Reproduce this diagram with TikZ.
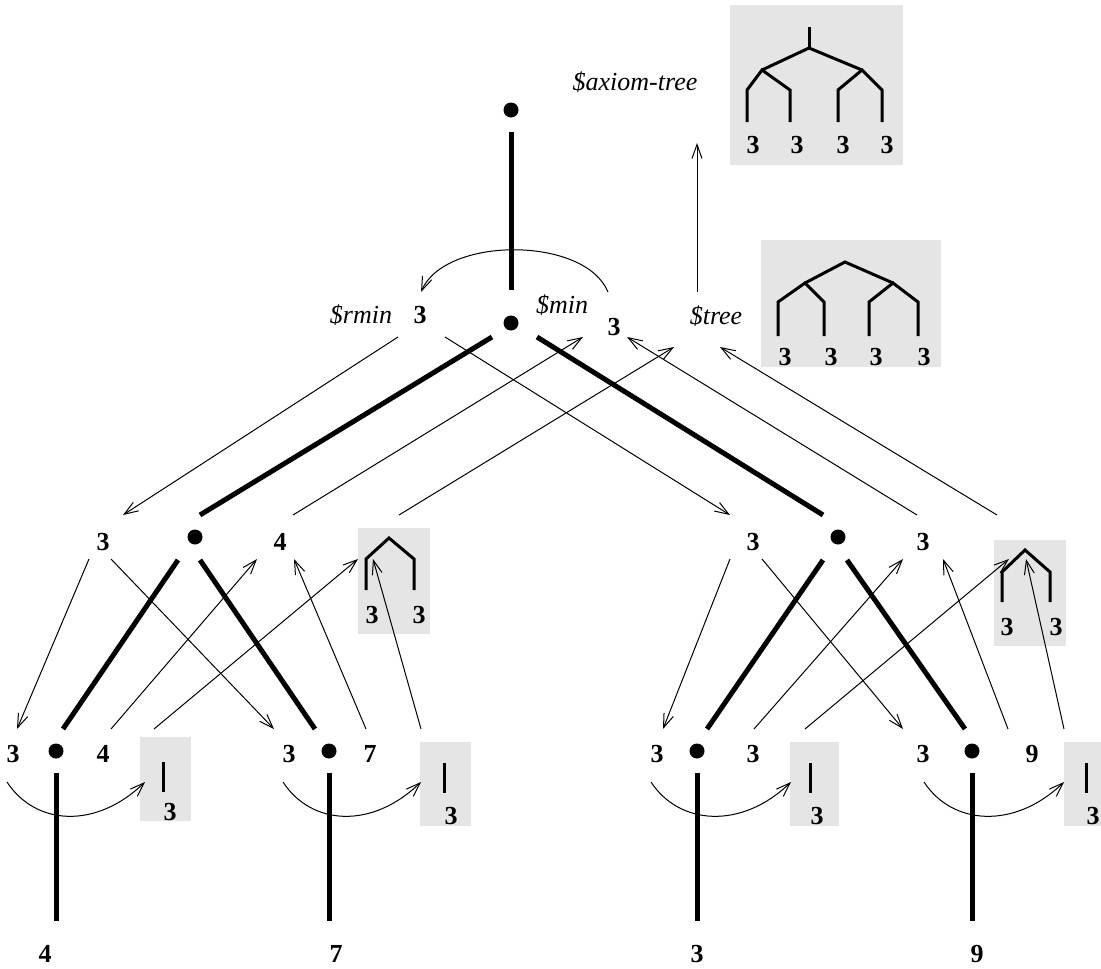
\documentclass[tikz,border=0pt]{standalone}
\usepackage{fontspec}
\setmainfont{Liberation Serif}
\usetikzlibrary{arrows.meta,calc}
\definecolor{boxgray}{RGB}{229,229,229}
\begin{document}
\begin{tikzpicture}[x=1pt,y=-1pt,
  num/.style={font=\fontsize{26}{30}\selectfont\bfseries, inner sep=0pt},
  lab/.style={font=\fontsize{26}{30}\selectfont\itshape, inner sep=0pt, anchor=base},
  dot/.style={circle, fill=black, inner sep=0pt, minimum size=15pt},
  heavy/.style={line width=5pt},
  treeline/.style={line width=3pt, line join=miter},
  arr/.style={line width=1pt, -{Straight Barb[length=14pt,width=10pt,line width=1pt]}},
  graybox/.style={fill=boxgray, draw=none, inner sep=0pt, outer sep=0pt, anchor=north west}]
\useasboundingbox (0,0) rectangle (1101,969);

% ---------- gray boxes ----------
\node[graybox,minimum width=173pt,minimum height=160pt] (axbox) at (730,5) {};
\node[graybox,minimum width=180pt,minimum height=127pt] (trbox) at (761,240) {};
\node[graybox,minimum width=72pt,minimum height=106pt] (g2l) at (358,528) {};
\node[graybox,minimum width=72pt,minimum height=106pt] (g2r) at (994,540) {};
\node[graybox,minimum width=51pt,minimum height=84pt] (g3a) at (140,737) {};
\node[graybox,minimum width=51pt,minimum height=84pt] (g3b) at (420,742) {};
\node[graybox,minimum width=49pt,minimum height=84pt] (g3c) at (790,742) {};
\node[graybox,minimum width=37pt,minimum height=84pt] (g3d) at (1064,742) {};

% ---------- small trees inside boxes ----------
\draw[treeline] (809,27) -- (809,48);
\draw[treeline] (762,70) -- (809,48) -- (862,70);
\draw[treeline] (747,122) -- (747,90) -- (762,70) -- (790,90) -- (790,122);
\draw[treeline] (838,122) -- (838,90) -- (862,70) -- (882,90) -- (882,122);
\foreach \x/\n in {753/a,797/b,843/c,887/d} \node[num] (ax\n) at (\x,145) {3};

\draw[treeline] (805,283) -- (845,262) -- (893,283);
\draw[treeline] (778,336) -- (778,302) -- (805,283) -- (824,302) -- (824,336);
\draw[treeline] (869,336) -- (869,302) -- (893,283) -- (918,302) -- (918,336);
\foreach \x/\n in {785/a,831/b,876/c,924/d} \node[num] (tr\n) at (\x,357) {3};

\draw[treeline] (366,590) -- (366,559) -- (389,538) -- (414,559) -- (414,590);
\node[num] (g2la) at (372,615) {3};
\node[num] (g2lb) at (419,615) {3};
\draw[treeline] (1002,602) -- (1002,572) -- (1025,550) -- (1050,572) -- (1050,602);
\node[num] (g2ra) at (1007,627) {3};
\node[num] (g2rb) at (1056,627) {3};

\draw[treeline] (163,762) -- (163,792);
\node[num] (g3al) at (170,812) {3};
\draw[treeline] (444,763) -- (444,793);
\node[num] (g3bl) at (451,816) {3};
\draw[treeline] (810,763) -- (810,793);
\node[num] (g3cl) at (817,816) {3};
\draw[treeline] (1086,763) -- (1086,793);
\node[num] (g3dl) at (1093,816) {3};

% ---------- dots ----------
\node[dot] (d0) at (511,110) {};
\node[dot] (d1) at (511,323) {};
\node[dot] (d2l) at (195,537) {};
\node[dot] (d2r) at (838,537) {};
\node[dot] (d3a) at (56,751) {};
\node[dot] (d3b) at (329,751) {};
\node[dot] (d3c) at (697,751) {};
\node[dot] (d3d) at (972,751) {};

% ---------- labels ----------
\node[lab] (axl) at (635,90) {\$axiom-tree};
\node[lab] (rminl) at (361,323) {\$rmin};
\node[lab] (minl) at (562,313) {\$min};
\node[lab] (treel) at (716,324) {\$tree};
\node[num] (n1a) at (420,315) {3};
\node[num] (n1b) at (614,327) {3};
\node[num] (n2a) at (103,542) {3};
\node[num] (n2b) at (280,542) {4};
\node[num] (n2c) at (753,542) {3};
\node[num] (n2d) at (923,542) {3};
\node[num] (n3a) at (13,754) {3};
\node[num] (n3b) at (103,754) {4};
\node[num] (n3c) at (289,754) {3};
\node[num] (n3d) at (370,754) {7};
\node[num] (n3e) at (657,754) {3};
\node[num] (n3f) at (753,754) {3};
\node[num] (n3g) at (923,754) {3};
\node[num] (n3h) at (1032,754) {9};
\node[num] (b1) at (45,954) {4};
\node[num] (b2) at (336,954) {7};
\node[num] (b3) at (697,954) {3};
\node[num] (b4) at (977,954) {9};

% ---------- heavy tree ----------
\draw[heavy] (511,132) -- (511,290);
\draw[heavy] (492,337) -- (200,515);
\draw[heavy] (537,337) -- (823,515);
\draw[heavy] (178,560) -- (63,729);
\draw[heavy] (200,560) -- (315,729);
\draw[heavy] (823,560) -- (707,729);
\draw[heavy] (847,560) -- (965,729);
\foreach \x in {56,329,697,972} \draw[heavy] (\x,773) -- (\x,921);

% ---------- thin arrows ----------
\coordinate (tS) at (697,292);
\coordinate (tE) at (697,143);
\draw[arr] (tS) -- (tE);
\coordinate (arcS) at (608,292);
\coordinate (arcE) at (421,292);
\draw[arr] (arcS) .. controls (585,236) and (445,236) .. (arcE);

\draw[arr] (398,337) -- (123,515);
\draw[arr] (445,337) -- (730,515);
\draw[arr] (293,515) -- (583,337);
\draw[arr] (399,515) -- (674,347);
\draw[arr] (917,515) -- (627,337);
\draw[arr] (997,515) -- (720,347);

\draw[arr] (89,559) -- (17,729);
\draw[arr] (111,559) -- (274,729);
\draw[arr] (111,729) -- (257,559);
\draw[arr] (154,729) -- (358,559);
\draw[arr] (366,729) -- (294,559);
\draw[arr] (421,729) -- (373,559);

\draw[arr] (730,559) -- (663,729);
\draw[arr] (762,559) -- (903,729);
\draw[arr] (754,729) -- (903,559);
\draw[arr] (805,729) -- (1009,559);
\draw[arr] (1008,729) -- (943,559);
\draw[arr] (1064,729) -- (1026,559);

\foreach \a/\b in {7/145,283/421,651/791,924/1064}
  \draw[arr] (\a,782) .. controls ($(\a,782)+(28,43)$) and ($(\b,782)+(-50,48)$) .. (\b,782);
\end{tikzpicture}
\end{document}
